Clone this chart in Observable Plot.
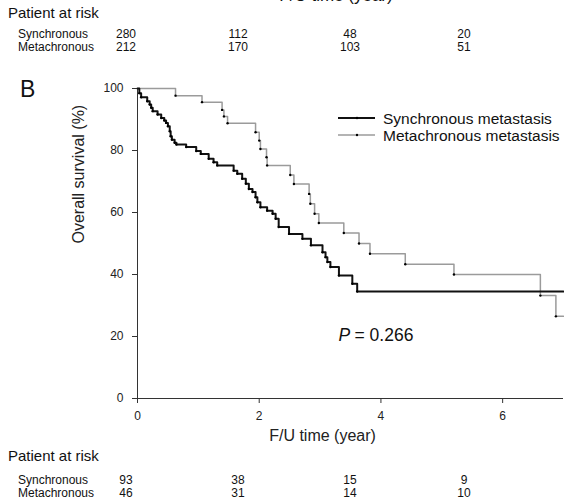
<!DOCTYPE html>
<html>
<head>
<meta charset="utf-8">
<script src="https://cdn.jsdelivr.net/npm/d3@7"></script>
<script src="https://cdn.jsdelivr.net/npm/@observablehq/plot@0.6"></script>
<style>
  html, body { margin: 0; padding: 0; background: #fff; }
  #chart { width: 564px; height: 504px; overflow: hidden; }
  svg { display: block; }
</style>
</head>
<body>
<div id="chart"></div>
<script>
// ---- data ----
const seriesNames = ["Synchronous metastasis", "Metachronous metastasis"];
const syncTime = [0,0.03,0.06,0.16,0.20,0.225,0.25,0.33,0.39,0.44,0.47,0.50,0.53,0.545,0.565,0.61,0.64,0.80,0.965,1.04,1.17,1.25,1.31,1.58,1.64,1.72,1.78,1.83,1.89,1.94,1.97,2.02,2.13,2.22,2.27,2.32,2.49,2.71,2.85,3.04,3.09,3.12,3.17,3.31,3.53,3.61,7.0];
const syncSurv = [100,98.5,97.2,95.9,94.8,93.8,92.7,91.6,90.5,89.7,88.9,87.8,86.2,84.6,83.5,82.5,81.9,81.1,79.8,78.9,77.3,76.2,75.2,73.5,72.5,70.9,69.3,67.6,66.6,64.9,63.3,61.7,60.6,59.6,58.0,55.3,53.1,51.5,49.4,47.2,45.6,44.0,42.4,39.7,37.0,34.5,34.5];
const metaTime = [0,0.625,1.06,1.39,1.42,1.48,1.94,2.0,2.02,2.12,2.13,2.51,2.57,2.82,2.84,2.91,2.98,3.39,3.64,3.82,4.40,5.20,6.62,6.875,7.0];
const metaSurv = [100,97.7,95.6,93.1,91.0,88.8,85.9,83.2,80.5,77.8,75.2,72.1,69.2,66.0,62.8,59.6,56.6,53.4,50.0,46.7,43.3,40.0,33.2,26.5,26.5];
const xTicks = [0, 2, 4, 6];
const yTicks = [0, 20, 40, 60, 80, 100];
const riskGroups = ["Synchronous", "Metachronous"];
const riskTopSync = [280, 112, 48, 20];
const riskTopMeta = [212, 170, 103, 51];
const riskSync = [93, 38, 15, 9];
const riskMeta = [46, 31, 14, 10];
const pText = "= 0.266";

// ---- build tables ----
const sync = syncTime.map((t, i) => ({t, s: syncSurv[i]}));
const meta = metaTime.map((t, i) => ({t, s: metaSurv[i]}));
const events = [...sync.slice(1, -1), ...meta.slice(1, -1)];

const font = "'Liberation Sans', Arial, Helvetica, sans-serif";

const svg = Plot.plot({
  width: 564, height: 504,
  marginLeft: 137, marginRight: 1, marginTop: 88, marginBottom: 106,
  x: {domain: [0, 7]},
  y: {domain: [0, 100]},
  style: {fontFamily: font, fontSize: "12px", color: "#222", background: "#fff"},
  marks: [
    Plot.ruleX([0], {stroke: "#333", strokeWidth: 1}),
    Plot.ruleY([0], {stroke: "#333", strokeWidth: 1}),
    Plot.axisY({ticks: yTicks, tickFormat: d => String(d), tickSize: 5, tickPadding: 9, label: null, fontSize: 12, stroke: "#333"}),
    Plot.axisX({ticks: xTicks, tickFormat: d => String(d), tickSize: 5, tickPadding: 8, label: null, fontSize: 12, stroke: "#333"}),
    Plot.line(meta, {x: "t", y: "s", curve: "step-after", stroke: "#9b9b9b", strokeWidth: 1.5}),
    Plot.line(sync, {x: "t", y: "s", curve: "step-after", stroke: "#111", strokeWidth: 2}),
    Plot.dot(events, {x: "t", y: "s", r: 1.2, fill: "#000", stroke: null}),
    Plot.text(["Overall survival (%)"], {frameAnchor: "left", dx: -59, rotate: -90, fontSize: 16, fill: "#222"}),
    Plot.text(["F/U time (year)"], {frameAnchor: "bottom", dx: -28, dy: 42, fontSize: 16, fill: "#222"}),
    Plot.text(["P"], {frameAnchor: "bottom-left", dx: 201, dy: -58, textAnchor: "start", fontSize: 17.5, fontStyle: "italic", fill: "#111"}),
    Plot.text([pText], {frameAnchor: "bottom-left", dx: 217, dy: -58, textAnchor: "start", fontSize: 17.5, fill: "#111"})
  ]
});

const g = d3.select(svg).append("g").attr("font-family", font).attr("fill", "#111").attr("text-anchor", "start");

// legend
const legendStyles = [{stroke: "#111", w: 2}, {stroke: "#9b9b9b", w: 1.5}];
seriesNames.forEach((name, i) => {
  const cy = 118 + i * 17;
  g.append("line").attr("x1", 338).attr("x2", 375).attr("y1", cy).attr("y2", cy)
    .attr("stroke", legendStyles[i].stroke).attr("stroke-width", legendStyles[i].w);
  g.append("circle").attr("cx", 357).attr("cy", cy).attr("r", 1.2).attr("fill", "#000");
  g.append("text").attr("x", 383).attr("y", cy + 5.5).attr("font-size", 15.5).attr("text-anchor", "start").text(name);
});

// panel label
g.append("text").attr("x", 20).attr("y", 97).attr("font-size", 23).attr("text-anchor", "start").text("B");

// cut-off label from the panel above
g.append("text").attr("x", 336).attr("y", 0.5).attr("font-size", 17).attr("text-anchor", "middle").text("F/U time (year)");

// risk tables
const colX = [126, 238, 350, 464];
function riskTable(titleY, rowY, rows) {
  g.append("text").attr("x", 8).attr("y", titleY).attr("font-size", 15).attr("text-anchor", "start").text("Patient at risk");
  rows.forEach((vals, r) => {
    g.append("text").attr("x", 18).attr("y", rowY[r]).attr("font-size", 12).attr("text-anchor", "start").text(riskGroups[r]);
    vals.forEach((v, c) => {
      g.append("text").attr("x", colX[c]).attr("y", rowY[r]).attr("font-size", 12)
        .attr("text-anchor", "middle").text(v);
    });
  });
}
riskTable(18, [37.5, 50.5], [riskTopSync, riskTopMeta]);
riskTable(461, [484, 497], [riskSync, riskMeta]);

document.getElementById("chart").appendChild(svg);
</script>
</body>
</html>
